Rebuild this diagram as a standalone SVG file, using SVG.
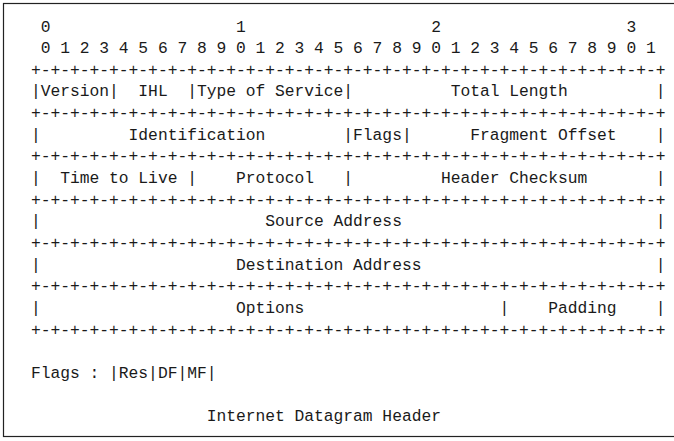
<svg xmlns="http://www.w3.org/2000/svg" width="674" height="441" viewBox="0 0 674 441">
<style>
text{font-family:"Liberation Mono","DejaVu Sans Mono",monospace;font-size:16.3px;fill:#1a1a1a;white-space:pre;letter-spacing:-0.01px}
</style>
<rect x="0" y="0" width="674" height="441" fill="#ffffff"/>
<rect x="3.5" y="3.5" width="672" height="433" fill="none" stroke="#222" stroke-width="1.2"/>
<g id="header-diagram" xml:space="preserve">
<text x="31" y="31.5"> 0                   1                   2                   3</text>
<text x="31" y="53.1"> 0 1 2 3 4 5 6 7 8 9 0 1 2 3 4 5 6 7 8 9 0 1 2 3 4 5 6 7 8 9 0 1</text>
<text x="31" y="74.8">+-+-+-+-+-+-+-+-+-+-+-+-+-+-+-+-+-+-+-+-+-+-+-+-+-+-+-+-+-+-+-+-+</text>
<text x="31" y="96.4">|Version|  IHL  |Type of Service|          Total Length         |</text>
<text x="31" y="118.1">+-+-+-+-+-+-+-+-+-+-+-+-+-+-+-+-+-+-+-+-+-+-+-+-+-+-+-+-+-+-+-+-+</text>
<text x="31" y="139.7">|         Identification        |Flags|      Fragment Offset    |</text>
<text x="31" y="161.4">+-+-+-+-+-+-+-+-+-+-+-+-+-+-+-+-+-+-+-+-+-+-+-+-+-+-+-+-+-+-+-+-+</text>
<text x="31" y="183.0">|  Time to Live |    Protocol   |         Header Checksum       |</text>
<text x="31" y="204.7">+-+-+-+-+-+-+-+-+-+-+-+-+-+-+-+-+-+-+-+-+-+-+-+-+-+-+-+-+-+-+-+-+</text>
<text x="31" y="226.4">|                       Source Address                          |</text>
<text x="31" y="248.0">+-+-+-+-+-+-+-+-+-+-+-+-+-+-+-+-+-+-+-+-+-+-+-+-+-+-+-+-+-+-+-+-+</text>
<text x="31" y="269.7">|                    Destination Address                        |</text>
<text x="31" y="291.3">+-+-+-+-+-+-+-+-+-+-+-+-+-+-+-+-+-+-+-+-+-+-+-+-+-+-+-+-+-+-+-+-+</text>
<text x="31" y="313.0">|                    Options                    |    Padding    |</text>
<text x="31" y="334.6">+-+-+-+-+-+-+-+-+-+-+-+-+-+-+-+-+-+-+-+-+-+-+-+-+-+-+-+-+-+-+-+-+</text>
<text x="31" y="377.9">Flags : |Res|DF|MF|</text>
<text x="31" y="421.2">                  Internet Datagram Header</text>
</g>
</svg>
